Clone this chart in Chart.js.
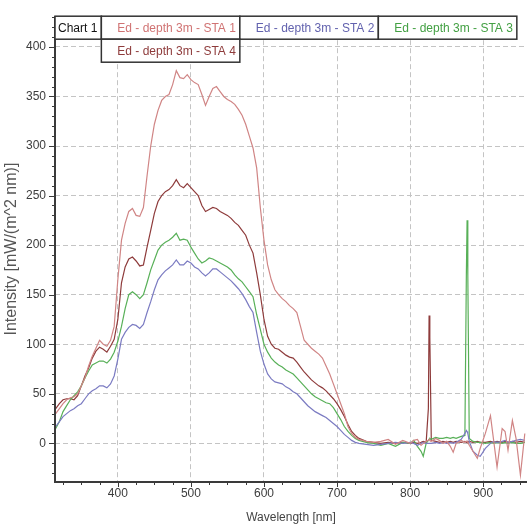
<!DOCTYPE html>
<html>
<head>
<meta charset="utf-8">
<script src="https://cdn.jsdelivr.net/npm/chart.js@4.4.0/dist/chart.umd.min.js"></script>
<style>
  html, body { margin: 0; padding: 0; background: #fff; }
  #wrap { width: 530px; height: 529px; }
</style>
</head>
<body>
<div id="wrap"><canvas id="chart" width="530" height="529"></canvas></div>
<script>
// wavelength grid [nm]
const wavelengths = [
  315, 320, 325, 330, 335, 340, 345, 350, 355, 360,
  365, 370, 375, 380, 385, 390, 395, 400, 405, 410,
  415, 420, 425, 430, 435, 440, 445, 450, 455, 460,
  465, 470, 475, 480, 485, 490, 495, 500, 505, 510,
  515, 520, 525, 530, 535, 540, 545, 550, 555, 560,
  565, 570, 575, 580, 585, 590, 595, 600, 605, 610,
  615, 620, 625, 630, 635, 640, 645, 650, 655, 660,
  665, 670, 675, 680, 685, 690, 695, 700, 705, 710,
  715, 720, 725, 730, 740, 750,
  760, 770, 780, 790, 800, 805, 810, 815, 818, 822,
  825, 826, 827, 829, 835, 840, 845, 850, 855, 859,
  863, 870, 875, 877, 878, 879, 881, 886, 892, 896,
  903, 910, 914, 919, 926, 930, 934, 940, 945, 951, 957
];

// Ed - depth 3m - STA 1
const sta1 = [
  30, 35, 40, 44, 46, 47, 50, 58, 66, 78,
  88, 96, 104, 100, 98, 104, 118, 165, 205, 222,
  234, 237, 230, 229, 238, 270, 300, 322, 336, 346,
  350, 352, 362, 376, 369, 368, 372, 367, 364, 362,
  352, 341, 350, 358, 360, 355, 350, 347, 345, 342,
  337, 331, 322, 310, 298, 278, 238, 205, 180, 165,
  155, 150, 146, 143, 139, 136, 132, 118, 104, 100,
  96, 93, 90, 86, 78, 70, 60, 50, 40, 30,
  17, 10, 6, 4, 2, 1,
  2, 4, -1, 3, 0, 3, 4, -2, 0, 2,
  3, 4, 3, 2, 5, 3, 0, 2, -3, -9,
  0, 3, 1, 2, 2, 1, -2, -8, -15, -5,
  10, 28, 5, -24, 15, 12, -7, 23, 5, -32, 10
];

// Ed - depth 3m - STA 2
const sta2 = [
  17, 22, 27, 30, 33, 35, 38, 40, 45, 50,
  53, 55, 58, 58, 56, 60, 68, 85, 105, 112,
  117, 120, 119, 116, 120, 132, 143, 155, 165, 170,
  174, 177, 180, 185, 180, 180, 184, 182, 178, 176,
  172, 169, 172, 176, 176, 173, 170, 167, 164, 160,
  156, 151, 145, 138, 132, 112, 93, 80, 70, 65,
  62, 61, 60, 57, 55, 52, 50, 46, 42, 38,
  35, 32, 30, 28, 26, 23, 20, 17, 13, 9,
  6, 3, 1, 0, -1, -2,
  -1, 0, 1, 0, 1, 0, -2, 0, 1, 0,
  0, 0, 0, 0, 1, 0, 1, 0, 1, 0,
  1, 4, 10, 13, 12, 10, 2, -8, -12, -13,
  -5, 0, 2, 1, 2, 3, 1, 2, 3, 4, 3
];

// Ed - depth 3m - STA 3
const sta3 = [
  15, 22, 32, 38, 44, 48, 52, 58, 66, 73,
  79, 81, 83, 83, 81, 85, 92, 103, 118, 136,
  150, 153, 150, 146, 150, 162, 175, 185, 195, 200,
  203, 205, 208, 212, 205, 206, 205, 198, 192, 186,
  182, 184, 187, 186, 184, 182, 180, 178, 175, 170,
  166, 163, 158, 153, 148, 130, 115, 100, 92, 86,
  82, 79, 77, 74, 72, 70, 66, 62, 58, 54,
  50, 47, 45, 43, 41, 40, 36, 30, 24, 17,
  12, 8, 5, 3, 1, 0,
  -2, 0, -3, 1, 0, 3, -3, -8, -13, 0,
  3, 4, 5, 4, 6, 5, 5, 6, 5, 6,
  5, 7, 8, 170, 225, 170, 5, 2, 1, 1,
  0, 1, 0, 1, 0, 1, 0, 1, 0, 0, 1
];

// Ed - depth 3m - STA 4
const sta4 = [
  35, 40, 44, 45, 45, 44, 48, 58, 68, 76,
  86, 93, 97, 95, 92, 98, 105, 125, 162, 178,
  186, 188, 184, 179, 180, 198, 215, 232, 244, 250,
  254, 256, 260, 266, 260, 258, 262, 258, 254, 250,
  240, 234, 236, 238, 237, 234, 232, 230, 227, 223,
  220, 215, 210, 200, 192, 172, 150, 125, 108, 100,
  96, 95, 92, 89, 87, 86, 82, 77, 72, 68,
  64, 61, 58, 56, 53, 49, 45, 40, 34, 27,
  19, 12, 8, 5, 2, 1,
  0, 1, 0, 1, 0, 1, 0, 1, 2, 1,
  35, 129, 107, 3, 2, 1, 2, 1, 2, 1,
  2, 1, 2, 1, 2, 1, 2, 1, 2, 1,
  1, 2, 1, 2, 1, 2, 1, 2, 1, 2, 1
];

const chartTitle = "Chart 1";
const seriesNames = [
  "Ed - depth 3m - STA 1",
  "Ed - depth 3m - STA 2",
  "Ed - depth 3m - STA 3",
  "Ed - depth 3m - STA 4"
];
const seriesData = [sta1, sta2, sta3, sta4];
const lineColors = ["#d08585", "#7b7bc2", "#58b058", "#8e3b3b"];
const legendColors = ["#d07373", "#6262ae", "#43a043", "#8e3b3b"];

const xTicks = [400, 500, 600, 700, 800, 900];
const yTicks = [0, 50, 100, 150, 200, 250, 300, 350, 400];
const xMinorStep = 25;
const yMinorStep = 10;

const FONT = '"Liberation Sans", Arial, sans-serif';

// frame, minor ticks and the boxed legend on top of the plot
const framePlugin = {
  id: "frame",
  afterDraw: function (chart) {
    var ctx = chart.ctx;
    var a = chart.chartArea;
    var x = chart.scales.x;
    var y = chart.scales.y;
    ctx.save();

    ctx.strokeStyle = "#3a3a3a";
    ctx.lineWidth = 1;
    ctx.beginPath();
    for (var v = Math.ceil(x.min / xMinorStep) * xMinorStep; v <= x.max; v += xMinorStep) {
      var px = Math.round(x.getPixelForValue(v)) + 0.5;
      var len = xTicks.indexOf(v) >= 0 ? 5 : 3;
      ctx.moveTo(px, a.bottom);
      ctx.lineTo(px, a.bottom + len);
    }
    for (var w = Math.ceil(y.min / yMinorStep) * yMinorStep; w <= y.max; w += yMinorStep) {
      var py = Math.round(y.getPixelForValue(w)) + 0.5;
      var l2 = yTicks.indexOf(w) >= 0 ? 6 : 3;
      ctx.moveTo(a.left, py);
      ctx.lineTo(a.left - l2, py);
    }
    ctx.stroke();

    ctx.lineWidth = 2;
    ctx.beginPath();
    ctx.moveTo(a.left, a.top);
    ctx.lineTo(a.left, a.bottom);
    ctx.lineTo(a.right, a.bottom);
    ctx.stroke();

    // legend cells
    ctx.font = "12px " + FONT;
    ctx.textBaseline = "middle";
    var rowH = 23;
    var cells = [];
    var cx = a.left;
    var tw = ctx.measureText(chartTitle).width + 7;
    cells.push({ text: chartTitle, color: "#111", x: cx, w: tw, row: 0, pad: 3 });
    cx += tw;
    var perRow = 3;
    var colX = [];
    var colW = [];
    seriesNames.forEach(function (name, i) {
      var cw = ctx.measureText(name).width + 20;
      if (i < perRow) {
        colX.push(cx);
        colW.push(cw);
        cells.push({ text: name, color: legendColors[i], x: cx, w: cw, row: 0, pad: 16 });
        cx += cw;
      } else {
        var c = (i - perRow) % perRow;
        cells.push({ text: name, color: legendColors[i], x: colX[c], w: colW[c], row: 1, pad: 16 });
      }
    });
    ctx.strokeStyle = "#333";
    ctx.lineWidth = 1.5;
    cells.forEach(function (cell) {
      var top = a.top + cell.row * rowH;
      ctx.fillStyle = "#fff";
      ctx.fillRect(cell.x, top, cell.w, rowH);
      ctx.strokeRect(cell.x, top, cell.w, rowH);
      ctx.fillStyle = cell.color;
      ctx.fillText(cell.text, cell.x + cell.pad, top + rowH / 2 + 1);
    });

    ctx.restore();
  }
};

const datasets = seriesData.map(function (vals, i) {
  return {
    label: seriesNames[i],
    data: vals.map(function (v, k) { return { x: wavelengths[k], y: v }; }),
    borderColor: lineColors[i],
    borderWidth: 1.2,
    pointRadius: 0,
    tension: 0,
    fill: false
  };
});

new Chart(document.getElementById("chart").getContext("2d"), {
  type: "line",
  data: { datasets: datasets },
  plugins: [framePlugin],
  options: {
    responsive: false,
    animation: false,
    layout: { padding: { top: 10, right: 3, left: 0, bottom: 0 } },
    plugins: {
      legend: { display: false },
      tooltip: { enabled: false },
      title: { display: false }
    },
    scales: {
      x: {
        type: "linear",
        min: 314,
        max: 960,
        afterFit: function (s) { s.height = 47; },
        afterBuildTicks: function (s) {
          s.ticks = xTicks.map(function (v) { return { value: v }; });
        },
        grid: { color: "#c4c4c4", lineWidth: 1, drawTicks: false },
        border: { display: false, dash: [5, 3] },
        ticks: {
          padding: 4,
          color: "#3c3c3c",
          font: { family: FONT, size: 12 },
          maxRotation: 0
        },
        title: {
          display: true,
          text: "Wavelength [nm]",
          color: "#444",
          font: { family: FONT, size: 12 },
          padding: { top: 6 }
        }
      },
      y: {
        min: -39,
        max: 431,
        afterFit: function (s) { s.width = 55; },
        afterBuildTicks: function (s) {
          s.ticks = yTicks.map(function (v) { return { value: v }; });
        },
        grid: { color: "#c4c4c4", lineWidth: 1, drawTicks: false },
        border: { display: false, dash: [5, 3] },
        ticks: {
          padding: 9,
          color: "#3c3c3c",
          font: { family: FONT, size: 12 }
        },
        title: {
          display: true,
          text: "Intensity [mW/(m^2 nm)]",
          color: "#555",
          font: { family: FONT, size: 16 },
          padding: { top: 2 }
        }
      }
    }
  }
});
</script>
</body>
</html>
